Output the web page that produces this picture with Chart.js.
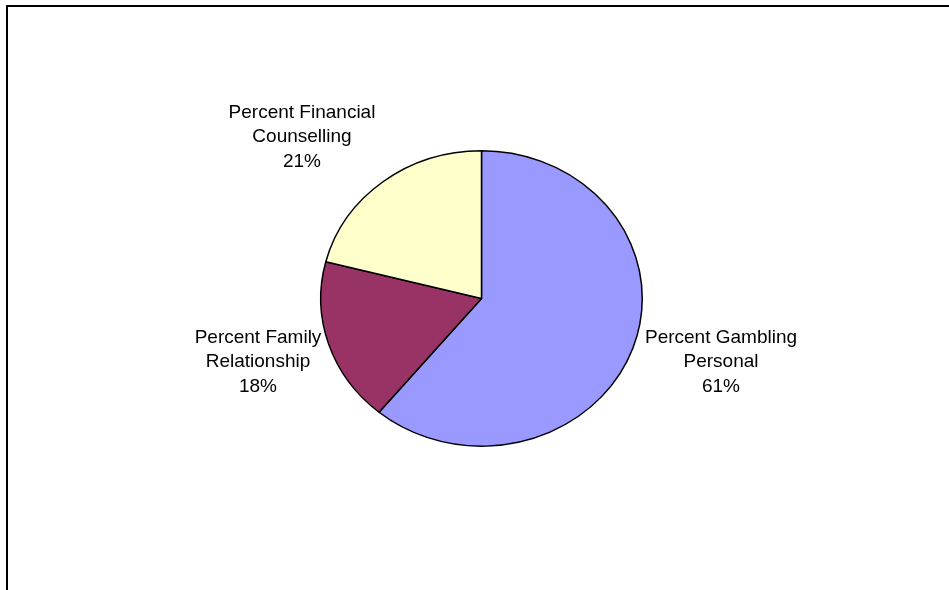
<!DOCTYPE html>
<html>
<head>
<meta charset="utf-8">
<script src="https://cdn.jsdelivr.net/npm/chart.js@4"></script>
<style>
    body { margin: 0; background: #fff; overflow: hidden; }
    #frame { position: absolute; left: 6px; top: 5px; width: 1200px; height: 900px;
             border-left: 2px solid #000; border-top: 2px solid #000; }
    #myChart { position: absolute; left: 0; top: 0; }
</style>
</head>
<body>
<div id="frame"></div>
<canvas id="myChart" width="949" height="590"></canvas>
<script>
// slice names, split the way the picture wraps them
const categories = [
    ['Percent Gambling', 'Personal'],
    ['Percent Family', 'Relationship'],
    ['Percent Financial', 'Counselling']
];
const values = [61, 18, 21];
const sliceColors = ['#9999FF', '#993366', '#FFFFCC'];

// where each label block is centred (x, y of the middle line)
const labelSpots = [[721, 362], [258, 362], [302, 137]];
const squash = 147 / 160;

const flattenPie = {
    id: 'flattenPie',
    beforeDatasetsDraw(chart) {
        const arc = chart.getDatasetMeta(0).data[0];
        const ctx = chart.ctx;
        ctx.save();
        ctx.translate(arc.x, arc.y);
        ctx.scale(1, squash);
        ctx.translate(-arc.x, -arc.y);
    },
    afterDatasetsDraw(chart) {
        chart.ctx.restore();
    }
};

const sliceLabels = {
    id: 'sliceLabels',
    afterDraw(chart) {
        const ctx = chart.ctx;
        const total = values.reduce((a, b) => a + b, 0);
        ctx.save();
        ctx.font = '19px "Liberation Sans", Arial, sans-serif';
        ctx.fillStyle = '#000';
        ctx.textAlign = 'center';
        ctx.textBaseline = 'middle';
        categories.forEach((lines, i) => {
            const all = lines.concat([Math.round(values[i] / total * 100) + '%']);
            const [x, y] = labelSpots[i];
            all.forEach((t, j) => {
                ctx.fillText(t, x, y + (j - 1) * 24.5);
            });
        });
        ctx.restore();
    }
};

const ctx = document.getElementById('myChart').getContext('2d');
const myChart = new Chart(ctx, {
    type: 'pie',
    data: {
        labels: categories.map(l => l.join(' ')),
        datasets: [{
            data: values,
            backgroundColor: sliceColors,
            borderColor: '#000',
            borderWidth: 1.5
        }]
    },
    options: {
        responsive: false,
        animation: false,
        layout: { padding: { left: 320, right: 306, top: 137, bottom: 130 } },
        plugins: {
            legend: { display: false },
            tooltip: { enabled: false }
        }
    },
    plugins: [flattenPie, sliceLabels]
});
</script>
</body>
</html>
